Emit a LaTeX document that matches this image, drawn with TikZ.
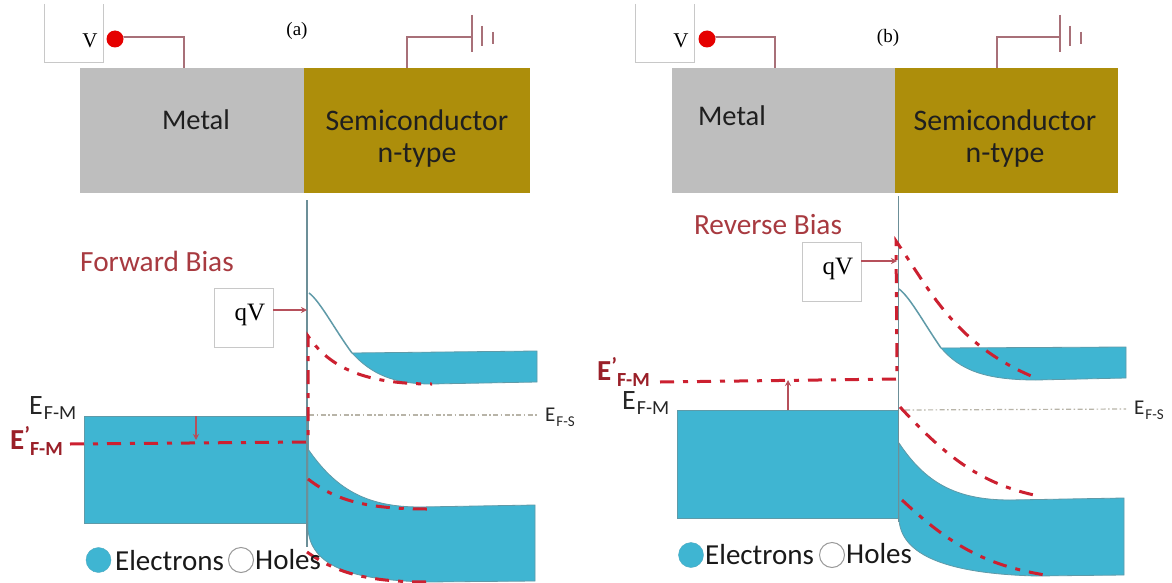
\documentclass[tikz,border=0pt]{standalone}
\usepackage{fontspec}
\setmainfont{Carlito}
\newfontfamily\tnr{Liberation Serif}
\definecolor{metalgray}{HTML}{BEBEBE}
\definecolor{gold}{HTML}{AD8E0B}
\definecolor{band}{HTML}{3FB5D2}
\definecolor{bandedge}{HTML}{5F9AA8}
\definecolor{redd}{HTML}{CC2030}
\definecolor{wire}{HTML}{A87078}
\definecolor{titlered}{HTML}{A83A40}
\definecolor{darkred}{HTML}{9A1F28}
\definecolor{boxline}{HTML}{C8C8C8}
\definecolor{fermi}{HTML}{B8B4A8}
\newcommand{\sz}[1]{\fontsize{#1}{#1}\selectfont}
\newcommand{\efm}[3]{\sz{#1}E\hspace{1pt}\raisebox{-5pt}{\sz{#2}#3}}
\newcommand{\efp}{\sz{29}E\raisebox{7pt}{\sz{22}\textquoteright}\raisebox{-5.5pt}{\sz{20}F-M}}
\tikzset{
 x=1pt,y=-1pt,
 metalbox/.style={draw=none,fill=metalgray},
 semibox/.style={draw=none,fill=gold},
 label/.style={inner sep=0pt,font=\sz{28.5},text=black!88},
 semilabel/.style={inner sep=0pt,font=\sz{29.8},text=black!88},
 latinlabel/.style={inner sep=0pt,font=\tnr\sz{21}},
 whitebox/.style={draw=boxline,line width=0.7pt,fill=white,minimum width=59pt,minimum height=59pt,inner sep=0pt},
 dotv/.style={circle,fill=red!90!black,minimum size=17pt,inner sep=0pt},
 wireline/.style={draw=wire,line width=1.6pt},
 bandfill/.style={fill=band,draw=bandedge,line width=0.8pt},
 iface/.style={draw=bandedge!60!gray,line width=1.8pt},
 reddash/.style={draw=redd,line width=3pt,dash pattern=on 14pt off 9pt on 5pt off 9pt},
 fermiline/.style={draw=fermi,line width=1.2pt,dash pattern=on 5pt off 2.5pt on 1.5pt off 2.5pt},
 arrowline/.style={draw=wire!60!redd,line width=1.3pt,-{Stealth[length=6pt,width=6pt]}},
 biasname/.style={inner sep=0pt,font=\sz{29.3},text=titlered},
 eleg/.style={circle,fill=band,draw=band!80!gray,minimum size=25pt,inner sep=0pt},
 hleg/.style={circle,fill=white,draw=gray!80,line width=1pt,minimum size=25pt,inner sep=0pt},
 legtext/.style={inner sep=0pt,font=\sz{29},text=black!90},
 elabel/.style={inner sep=0pt,text=black!85},
 eplabel/.style={inner sep=0pt,text=darkred,font=\bfseries},
}
\usetikzlibrary{arrows.meta}
\begin{document}
\begin{tikzpicture}
\fill[white] (0,0) rectangle (1172,583);
\useasboundingbox (0,0) rectangle (1172,583);
\clip (0,0) rectangle (1172,583);

%%%%%% panel (a)
\node[metalbox,minimum width=224pt,minimum height=125pt,inner sep=0pt] (ma) at (192,130.5) {};
\node[semibox,minimum width=226pt,minimum height=125pt,inner sep=0pt] (sa) at (417,130.5) {};
\node[label] (mta) at (196,120) {Metal};
\node[semilabel] (sta) at (417,120) {Semiconductor};
\node[semilabel] (nta) at (417,155) {n-type};
\coordinate (va1) at (44,4); \coordinate (va2) at (44,62); \coordinate (va3) at (103,62); \coordinate (va4) at (103,4);
\draw[draw=boxline,line width=0.7pt] (va1) -- (va2) -- (va3) -- (va4);
\node[latinlabel] (vla) at (90,41) {V};
\node[dotv] (da) at (115,39) {};
\coordinate (wa1) at (184,37); \coordinate (wa2) at (184,68);
\draw[wireline] (da) -- (wa1 -| da.east) -- (wa1) -- (wa2);
\coordinate (ga0) at (407,68); \coordinate (ga1) at (407,37); \coordinate (ga2) at (472,37);
\draw[wireline] (ga0) -- (ga1) -- (ga2);
\coordinate (gb1) at (472,15); \coordinate (gb2) at (472,52);
\coordinate (gc1) at (482,26); \coordinate (gc2) at (482,46);
\coordinate (gd1) at (493,32); \coordinate (gd2) at (493,44);
\draw[wireline] (gb1) -- (gb2) (gc1) -- (gc2) (gd1) -- (gd2);
\node[latinlabel,font=\tnr\sz{19}] (ta) at (297,31) {(a)};

\node[biasname] (fb) at (157,261) {Forward Bias};

\fill[band] (84,416) rectangle (308,523);
\draw[draw=bandedge,line width=0.8pt] (84,416) rectangle (308,523);
\path[bandfill] (352,353) -- (537,351) -- (537,382) -- (431,384)
  .. controls (395,384) and (372,375) .. (352,353) -- cycle;
\draw[draw=bandedge,line width=1.5pt] (309,293) .. controls (320,301) and (335,330) .. (352,353);
\path[bandfill] (308,449) .. controls (335,488) and (365,507) .. (420,507) -- (535,505) -- (535,581) -- (426,582)
  .. controls (360,580) and (312,570) .. (308,530) -- cycle;
\coordinate (ifa1) at (307,200); \coordinate (ifa2) at (307,547);
\draw[iface] (ifa1) -- (ifa2);

\coordinate (fsa1) at (309,415); \coordinate (fsa2) at (537,415);
\draw[fermiline] (fsa1) -- (fsa2);
\draw[reddash] (70,444) -- (308,442) -- (308,336) .. controls (330,368) and (365,384) .. (432,384);
\draw[reddash] (308,479) .. controls (335,500) and (365,509) .. (428,509);
\draw[reddash] (307,552) .. controls (335,572) and (365,582) .. (428,582);

\coordinate (sa1) at (196,416); \coordinate (sa2) at (196,440);
\draw[arrowline] (sa1) -- (sa2);
\node[whitebox] (qa) at (243.5,317.5) {};
\node[latinlabel,font=\tnr\sz{25}] (qla) at (250,315) {qV};
\coordinate (qat) at (307,310);
\draw[arrowline] (qa.east |- qat) -- (qat);

\node[elabel,anchor=west] (efa) at (29,408) {\efm{28}{20}{F-M}};
\node[eplabel,anchor=west] (epa) at (10,441) {\efp};
\node[elabel,anchor=west] (esa) at (545,417) {\efm{21}{15}{F-S}};

\node[eleg] (ela) at (98.5,560) {};
\node[legtext,anchor=west] (elta) at (115,561) {Electrons};
\node[hleg] (hla) at (241,560) {};
\node[legtext,anchor=west] (hlta) at (255,560) {Holes};

%%%%%% panel (b)
\node[metalbox,minimum width=223pt,minimum height=125pt,inner sep=0pt] (mb) at (783.5,130.5) {};
\node[semibox,minimum width=223pt,minimum height=125pt,inner sep=0pt] (sb) at (1006.5,130.5) {};
\node[label] (mtb) at (732,116) {Metal};
\node[semilabel] (stb) at (1005,120) {Semiconductor};
\node[semilabel] (ntb) at (1005,155) {n-type};
\coordinate (vb1) at (635,4); \coordinate (vb2) at (635,62); \coordinate (vb3) at (694,62); \coordinate (vb4) at (694,4);
\draw[draw=boxline,line width=0.7pt] (vb1) -- (vb2) -- (vb3) -- (vb4);
\node[latinlabel] (vlb) at (681,41) {V};
\node[dotv] (db) at (707,39) {};
\coordinate (wb1) at (775,37); \coordinate (wb2) at (775,68);
\draw[wireline] (db) -- (wb1 -| db.east) -- (wb1) -- (wb2);
\coordinate (hb0) at (997,68); \coordinate (hb1) at (997,37); \coordinate (hb2) at (1060,37);
\draw[wireline] (hb0) -- (hb1) -- (hb2);
\coordinate (ib1) at (1060,15); \coordinate (ib2) at (1060,52);
\coordinate (jb1) at (1070,26); \coordinate (jb2) at (1070,46);
\coordinate (kb1) at (1081,32); \coordinate (kb2) at (1081,44);
\draw[wireline] (ib1) -- (ib2) (jb1) -- (jb2) (kb1) -- (kb2);
\node[latinlabel,font=\tnr\sz{19}] (tb) at (888,38) {(b)};

\node[biasname] (rb) at (768,225) {Reverse Bias};

\fill[band] (677,410) rectangle (898,518);
\draw[draw=bandedge,line width=0.8pt] (677,410) rectangle (898,518);
\path[bandfill] (941,348) -- (1126,347) -- (1126,378) -- (1036,380)
  .. controls (985,380) and (960,370) .. (941,348) -- cycle;
\draw[draw=bandedge,line width=1.5pt] (899,289) .. controls (910,297) and (925,325) .. (941,348);
\path[bandfill] (899,443) .. controls (925,482) and (955,500) .. (1010,500) -- (1124,498) -- (1124,575) -- (1036,576)
  .. controls (960,574) and (902,560) .. (899,520) -- cycle;
\coordinate (ifb1) at (898.5,196); \coordinate (ifb2) at (898.5,522);
\draw[iface] (ifb1) -- (ifb2);

\coordinate (fsb1) at (905,410); \coordinate (fsb2) at (1126,409);
\draw[fermiline] (fsb1) -- (fsb2);
\draw[reddash] (660,382) -- (897,379) -- (896,241) .. controls (930,290) and (955,345) .. (1036,378);
\draw[reddash] (900,407) .. controls (940,450) and (975,482) .. (1034,495);
\draw[reddash] (902,500) .. controls (950,545) and (985,565) .. (1045,575);

\coordinate (sb1) at (788,410); \coordinate (sb2) at (788,380);
\draw[arrowline] (sb1) -- (sb2);
\node[whitebox] (qb) at (831.5,271.5) {};
\node[latinlabel,font=\tnr\sz{25}] (qlb) at (838,269) {qV};
\coordinate (qbt) at (897,261);
\draw[arrowline] (qb.east |- qbt) -- (qbt);

\node[elabel,anchor=west] (efb) at (622,403) {\efm{28}{20}{F-M}};
\node[eplabel,anchor=west] (epb) at (597,372) {\efp};
\node[elabel,anchor=west] (esb) at (1134,410) {\efm{21}{15}{F-S}};

\node[eleg] (elb) at (691,555) {};
\node[legtext,anchor=west] (eltb) at (705,555) {Electrons};
\node[hleg] (hlb) at (832,555) {};
\node[legtext,anchor=west] (hltb) at (846,554) {Holes};
\end{tikzpicture}
\end{document}
